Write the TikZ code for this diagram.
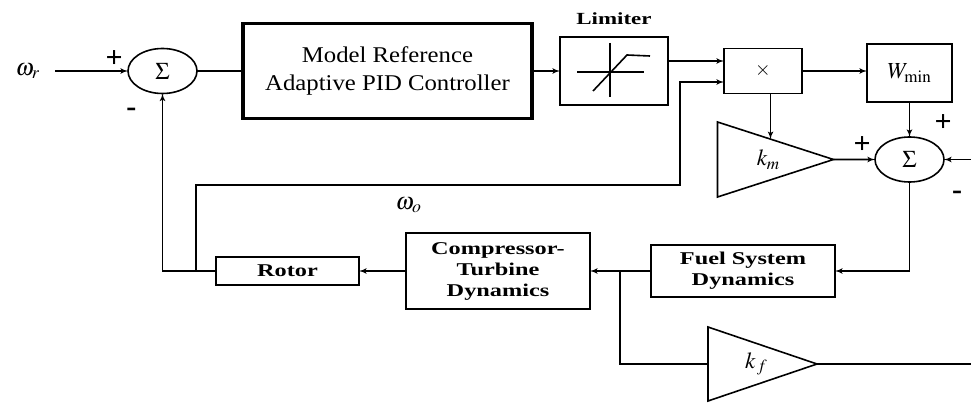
\documentclass[tikz,border=0pt]{standalone}
\usepackage{amsmath}
\usepackage{mathptmx}
\usepackage{fontspec}
\setmainfont{Liberation Serif}
\newfontfamily\blockfont[FakeStretch=1.35]{Liberation Serif}
\newfontfamily\mracfont[FakeStretch=1.1]{Liberation Serif}
\usetikzlibrary{shapes,arrows,positioning,calc}

\begin{document}
\begin{tikzpicture}[
    x=1pt, y=1pt,
    block/.style={
        rectangle,
        draw,
        line width=1.6pt,
        align=center,
        inner sep=0pt,
        outer sep=0pt,
        font=\blockfont\bfseries\fontsize{18}{21}\selectfont
    },
    sumnode/.style={
        ellipse,
        draw,
        line width=1.6pt,
        minimum width=69pt,
        minimum height=45pt,
        inner sep=0pt,
        outer sep=0pt,
        font=\fontsize{24}{26}\selectfont
    },
    gain/.style={
        isosceles triangle,
        isosceles triangle stretches,
        shape border rotate=0,
        draw,
        line width=1.6pt,
        inner sep=0pt,
        outer sep=0pt,
        font=\fontsize{23}{26}\selectfont
    },
    line/.style={
        draw,
        line width=1.6pt,
        -latex'
    },
    sign/.style={
        inner sep=0pt,
        font=\bfseries\fontsize{30}{30}\selectfont
    }
]
\useasboundingbox (0,0) rectangle (971,-403);
\coordinate (rim) at (971,0);

% Nodes
\node [sumnode] (sum1) at (162.5,-71) {$\Sigma$};
\node [block, line width=3.5pt, right=46pt of sum1, minimum width=289pt, minimum height=95pt,
       font=\mracfont\fontsize{22.5}{28}\selectfont] (mrac) {Model Reference\\Adaptive PID Controller};
\node [block, right=28pt of mrac, minimum width=108pt, minimum height=68pt] (limiter) {};
\node [block, right=56pt of limiter, minimum width=78pt, minimum height=45pt,
       font=\fontsize{20}{20}\selectfont] (prod) {$\times$};
\node [block, right=65pt of prod, yshift=-2pt, minimum width=85pt, minimum height=58pt,
       font=\fontsize{23}{26}\selectfont] (wmin) {$W_{\min}$};
\node [sumnode, below=35pt of wmin] (sum2) {$\Sigma$};
\node [gain, left=41.5pt of sum2, minimum width=75pt, minimum height=116pt] (km) {\hspace*{32pt}$k_m$};

\node [block, below=63pt of sum2, xshift=-166.5pt, minimum width=184pt, minimum height=52pt] (fuel) {Fuel System\\Dynamics};
\node [block, left=61pt of fuel, minimum width=184pt, minimum height=76pt] (comp) {Compressor-\\Turbine\\Dynamics};
\node [block, left=47pt of comp, minimum width=143pt, minimum height=28pt] (rotor) {Rotor};
\node [gain, below right=67pt and 57pt of fuel.south west, anchor=west, minimum width=74pt, minimum height=109pt] (kf) {\hspace*{32pt}$k_{\,f}$};

% Labels
\coordinate [left=73pt of sum1.west] (wrin);
\node [left=15pt of wrin, inner sep=0pt, font=\fontsize{24}{26}\selectfont] (wr) {$\omega_r$};
\node [above right=44pt and 108pt of rotor.north, inner sep=0pt, font=\fontsize{24}{26}\selectfont] (wo) {$\omega_o$};
\node [above=12pt of limiter, inner sep=0pt, font=\blockfont\bfseries\fontsize{17}{20}\selectfont] (limlabel) {Limiter};
\node [sign, above left=3pt and 5pt of sum1.west] (plus1) {+};
\node [sign, below left=14pt and 26pt of sum1.south] (minus1) {-};
\node [sign, above left=6pt and 4pt of sum2.west] (plus2) {+};
\node [sign, above right=5pt and 25pt of sum2.north] (plus3) {+};
\node [sign, below right=31pt and 8pt of sum2.east] (minus2) {-};

% Limiter curve
\begin{scope}[shift={(limiter.center)}, line width=1.6pt]
  \draw (-4,28) -- (-4,-26);
  \draw (-37,-1) -- (30,-1);
  \draw (-21,-20) -- (13,16) -- (36,15);
\end{scope}

% Paths
\coordinate [left=20pt of rotor.west] (fbjoin);
\coordinate [left=31pt of fuel.west] (kfjoin);
\coordinate (kmin) at ($(km.left corner)!0.457!(km.apex)$);

\draw [line] (wrin) -- (sum1.west);
\draw [line width=1.6pt] (sum1.east) -- (mrac.west);
\draw [line] (mrac.east) -- (limiter.west);
\draw [line] ([yshift=10pt]limiter.east) -- ([yshift=10pt]prod.west);
\draw [line] (prod.east) -- (prod.east -| wmin.west);
\draw [line] (prod.south -| kmin) -- (kmin);
\draw [line] (wmin.south) -- (sum2.north);
\draw [line] (km.apex) -- (sum2.west);
\draw [line] (sum2.east -| rim) -- (sum2.east);
\draw [line] (sum2.south) |- (fuel.east);
\draw [line] (fuel.west) -- (comp.east);
\draw [line] (comp.west) -- (rotor.east);
\draw [line] (rotor.west) -| (sum1.south);
\draw [line] (fbjoin) -- ++(0,86) -| ([xshift=-44pt,yshift=-11pt]prod.west) -- ([yshift=-11pt]prod.west);
\draw [line width=1.6pt] (kfjoin) |- (kf.west);
\draw [line width=1.6pt] (kf.apex) -- (kf.apex -| rim);

\end{tikzpicture}
\end{document}
